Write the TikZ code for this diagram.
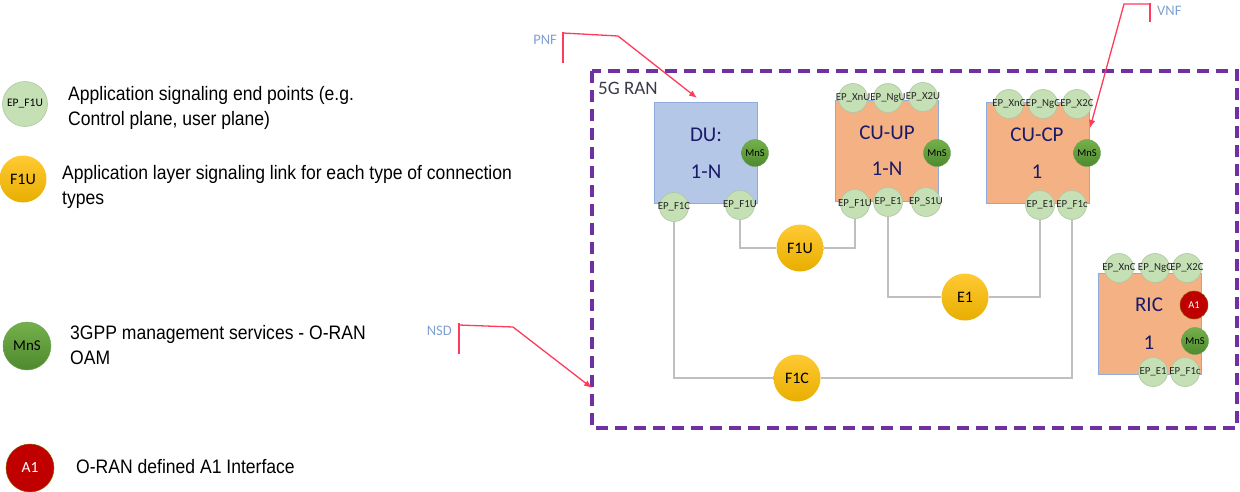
\documentclass[tikz,border=0pt]{standalone}
\usepackage{fontspec}
\setmainfont{Carlito}
\newfontfamily\legfont[FakeStretch=0.9]{Liberation Sans}
\usetikzlibrary{arrows.meta,shapes.geometric}
\definecolor{epfill}{HTML}{C5E0B4}
\definecolor{epdraw}{HTML}{AFC6A2}
\definecolor{dufill}{HTML}{B4C7E7}
\definecolor{boxdraw}{HTML}{8FAADC}
\definecolor{cufill}{HTML}{F4B183}
\definecolor{navy}{HTML}{1A1A6A}
\definecolor{ytop}{HTML}{FFCA33}
\definecolor{ybot}{HTML}{E8AE00}
\definecolor{gtop}{HTML}{74B04A}
\definecolor{gbot}{HTML}{4E8A2E}
\definecolor{a1red}{HTML}{C00000}
\definecolor{a1draw}{HTML}{8A5A00}
\definecolor{ranpurple}{HTML}{7030A0}
\definecolor{annred}{HTML}{FF3B5C}
\definecolor{annblue}{HTML}{7F9FD4}
\definecolor{linkgray}{HTML}{BFBFBF}
\definecolor{rantext}{HTML}{3A3A4A}
\begin{document}
\begin{tikzpicture}[x=1pt,y=-1pt,
  ep/.style={circle, fill=epfill, draw=epdraw, line width=0.6pt, minimum size=29pt, inner sep=0pt},
  eplabel/.style={font=\fontsize{10.8}{12}\selectfont, text=black!85, inner sep=0pt},
  mns/.style={circle, top color=gtop, bottom color=gbot, draw=gbot!80, line width=0.4pt, minimum size=27pt, inner sep=0pt, font=\fontsize{10.5}{12}\selectfont},
  aone/.style={circle, fill=a1red, draw=a1draw, line width=0.5pt, minimum size=28pt, inner sep=0pt, text=white, font=\fontsize{10.5}{12}\selectfont},
  linkc/.style={circle, top color=ytop, bottom color=ybot, minimum size=47pt, inner sep=0pt, font=\fontsize{16}{18}\selectfont},
  nfbox/.style={draw=boxdraw, line width=0.8pt, minimum width=103pt, minimum height=101pt, inner sep=0pt},
  boxtext/.style={text=navy, font=\fontsize{21}{24}\selectfont, inner sep=0pt},
  conn/.style={draw=linkgray, line width=1.8pt},
  ann/.style={draw=annred, line width=1.3pt},
  annarrow/.style={ann, -{Latex[length=8pt,width=6.5pt]}},
  anntext/.style={text=annblue, font=\fontsize{14.5}{17}\selectfont, inner sep=0pt},
  legtext/.style={font=\legfont\fontsize{19.5}{25}\selectfont, align=left, anchor=west, inner sep=0pt},
  ranbox/.style={draw=ranpurple, line width=3.2pt, dash pattern=on 12pt off 7pt}
]
\useasboundingbox (0,0) rectangle (1240,491);

% ---------- legend ----------
\node[ep, minimum size=45pt, font=\fontsize{11.5}{13}\selectfont] (leg-ep) at (25,104) {EP\_F1U};
\node[legtext] (leg-ep-t) at (68,107.5) {Application signaling end points (e.g.\\Control plane, user plane)};
\node[linkc, minimum size=47pt] (leg-link) at (23,179) {F1U};
\node[legtext] (leg-link-t) at (62,186.5) {Application layer signaling link for each type of connection\\types};
\node[mns, minimum size=48pt, font=\fontsize{15}{18}\selectfont] (leg-mns) at (27,346) {MnS};
\node[legtext] (leg-mns-t) at (70,345) {3GPP management services - O-RAN\\OAM};
\node[aone, minimum size=48pt, font=\fontsize{15.5}{18}\selectfont] (leg-a1) at (30,468) {A1};
\node[legtext] (leg-a1-t) at (76,467) {O-RAN defined A1 Interface};

% ---------- 5G RAN frame ----------
\draw[ranbox] (592,71) rectangle (1237,428);
\node[anchor=west, text=rantext, font=\fontsize{19}{22}\selectfont, inner sep=0pt] (ran) at (598,88) {5G RAN};

% ---------- boxes ----------
\node[nfbox, fill=dufill] (du) at (705.5,152.5) {};
\node[nfbox, fill=cufill] (cuup) at (886.5,150.5) {};
\node[nfbox, fill=cufill] (cucp) at (1038,152.5) {};
\node[nfbox, fill=cufill, minimum height=101pt] (ric) at (1149.5,323.5) {};

\node[boxtext] (du-t1) at (706,135) {DU:};
\node[boxtext] (du-t2) at (706,172) {1-N};
\node[boxtext] (cuup-t1) at (887,133) {CU-UP};
\node[boxtext] (cuup-t2) at (887,169) {1-N};
\node[boxtext] (cucp-t1) at (1037,135) {CU-CP};
\node[boxtext] (cucp-t2) at (1037,172) {1};
\node[boxtext] (ric-t1) at (1149,305) {RIC};
\node[boxtext] (ric-t2) at (1149,343) {1};

% ---------- end points ----------
\node[ep] (du-f1c) at (674,207) {};
\node[ep] (du-f1u) at (740,205) {};
\node[ep] (cuup-xnu) at (853,98) {};
\node[ep] (cuup-ngu) at (888,98) {};
\node[ep] (cuup-x2u) at (923,97) {};
\node[ep] (cuup-f1u) at (855,204) {};
\node[ep] (cuup-e1) at (888,202) {};
\node[ep] (cuup-s1u) at (926,202) {};
\node[ep] (cucp-xnc) at (1009,104) {};
\node[ep] (cucp-ngc) at (1043,104) {};
\node[ep] (cucp-x2c) at (1077,104) {};
\node[ep] (cucp-e1) at (1040,205) {};
\node[ep] (cucp-f1c) at (1072,205) {};
\node[ep] (ric-xnc) at (1119,268) {};
\node[ep] (ric-ngc) at (1155,268) {};
\node[ep] (ric-x2c) at (1187,268) {};
\node[ep] (ric-e1) at (1153,372) {};
\node[ep] (ric-f1c) at (1185,372) {};

\node[eplabel] at (du-f1c) {EP\_F1C};
\node[eplabel] at (du-f1u) {EP\_F1U};
\node[eplabel] at (cuup-xnu) {EP\_XnU};
\node[eplabel] at (cuup-ngu) {EP\_NgU};
\node[eplabel] at (cuup-x2u) {EP\_X2U};
\node[eplabel] at (cuup-f1u) {EP\_F1U};
\node[eplabel] at (cuup-e1) {EP\_E1};
\node[eplabel] at (cuup-s1u) {EP\_S1U};
\node[eplabel] at (cucp-xnc) {EP\_XnC};
\node[eplabel] at (cucp-ngc) {EP\_NgC};
\node[eplabel] at (cucp-x2c) {EP\_X2C};
\node[eplabel] at (cucp-e1) {EP\_E1};
\node[eplabel] at (cucp-f1c) {EP\_F1c};
\node[eplabel] at (ric-xnc) {EP\_XnC};
\node[eplabel] at (ric-ngc) {EP\_NgC};
\node[eplabel] at (ric-x2c) {EP\_X2C};
\node[eplabel] at (ric-e1) {EP\_E1};
\node[eplabel] at (ric-f1c) {EP\_F1c};

% ---------- management / A1 ----------
\node[mns] (du-mns) at (755,153) {MnS};
\node[mns] (cuup-mns) at (937,153) {MnS};
\node[mns] (cucp-mns) at (1087,153) {MnS};
\node[aone] (ric-a1) at (1194,305) {A1};
\node[mns] (ric-mns) at (1195,341) {MnS};

% ---------- links ----------
\node[linkc] (f1u) at (800,248) {F1U};
\node[linkc] (e1) at (965,297) {E1};
\node[linkc] (f1c) at (797,378) {F1C};

\draw[conn] (du-f1u) |- (f1u);
\draw[conn] (f1u) -| (cuup-f1u);
\draw[conn] (cuup-e1) |- (e1);
\draw[conn] (e1) -| (cucp-e1);
\draw[conn] (du-f1c) |- (f1c);
\draw[conn] (f1c) -| (cucp-f1c);

% ---------- annotations ----------
\node[anntext, anchor=east] (pnf) at (557,40) {PNF};
\coordinate (pnf-bar-top) at (563,32);
\coordinate (pnf-bar-bot) at (563,63);
\coordinate (pnf-knee) at (618,36);
\coordinate (pnf-tip) at (697,98);
\draw[ann] (pnf-bar-top) -- (pnf-bar-bot);
\draw[annarrow] (563,33) -- (pnf-knee) -- (pnf-tip);

\node[anntext, anchor=east] (nsd) at (452,331) {NSD};
\coordinate (nsd-bar-top) at (459,323);
\coordinate (nsd-bar-bot) at (459,354);
\coordinate (nsd-knee) at (513,327);
\coordinate (nsd-tip) at (592,388);
\draw[ann] (nsd-bar-top) -- (nsd-bar-bot);
\draw[annarrow] (459,325) -- (nsd-knee) -- (nsd-tip);

\node[anntext, anchor=west] (vnf) at (1157,11) {VNF};
\coordinate (vnf-bar-top) at (1150,3);
\coordinate (vnf-bar-bot) at (1150,22);
\coordinate (vnf-knee) at (1124,4);
\coordinate (vnf-tip) at (1090,128);
\draw[ann] (vnf-bar-top) -- (vnf-bar-bot);
\draw[annarrow] (1150,4) -- (vnf-knee) -- (vnf-tip);
\end{tikzpicture}
\end{document}
